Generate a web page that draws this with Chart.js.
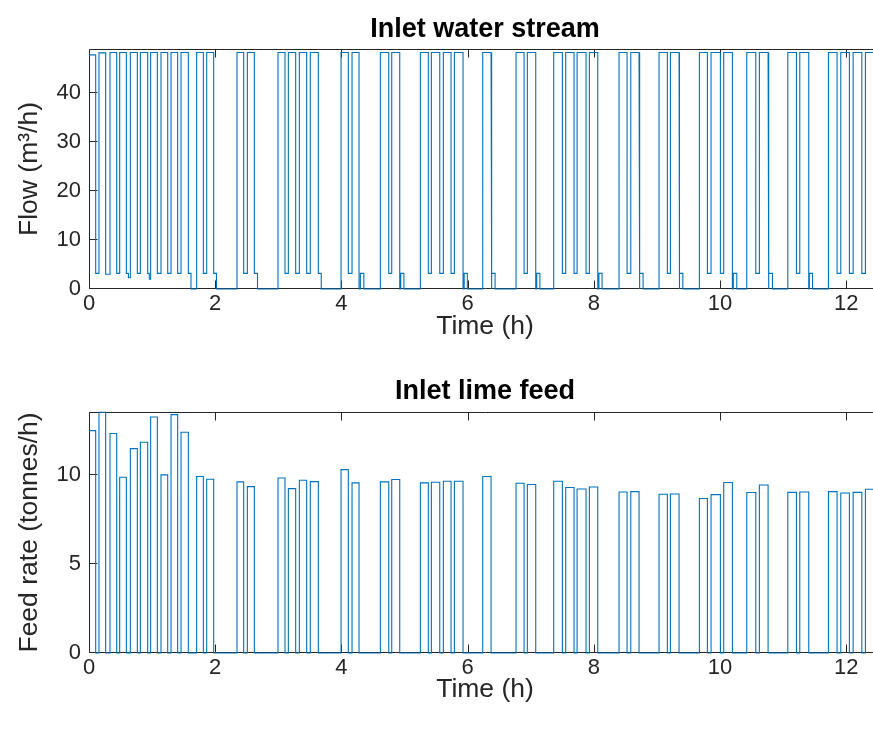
<!DOCTYPE html>
<html><head><meta charset="utf-8">
<script src="https://cdn.jsdelivr.net/npm/chart.js@4"></script>
<style>
html,body{margin:0;padding:0;background:#fff;overflow:hidden;width:873px;height:734px;}
.wrap{position:absolute;left:0;width:873px;height:367px;overflow:hidden;}
</style></head><body>
<div class="wrap" style="top:0"><canvas id="c1" width="881" height="367"></canvas></div>
<div class="wrap" style="top:367px"><canvas id="c2" width="881" height="367"></canvas></div>
<script>
// ---- data (hours, m3/h, tonnes/h) ----
const timeTicks = [0, 2, 4, 6, 8, 10, 12];
const flowTicks = [0, 10, 20, 30, 40];
const feedTicks = [0, 5, 10];

const pulseStart = [0.000,0.158,0.333,0.486,0.655,0.814,0.977,1.141,1.300,1.458,1.706,1.865,
  2.345,2.509,2.995,3.159,3.333,3.507,3.994,4.168,4.617,4.797,5.251,5.425,5.615,5.790,
  6.239,6.767,6.946,7.364,7.554,7.734,7.929,8.399,8.585,9.033,9.213,9.672,9.857,10.058,
  10.423,10.623,11.073,11.263,11.717,11.913,12.108,12.303];
const pulseEnd = [0.106,0.264,0.439,0.592,0.766,0.930,1.083,1.247,1.405,1.574,1.812,1.976,
  2.451,2.620,3.106,3.275,3.449,3.634,4.109,4.279,4.750,4.924,5.377,5.558,5.737,5.927,
  6.371,6.894,7.079,7.501,7.686,7.876,8.062,8.526,8.716,9.165,9.350,9.799,10.005,10.195,
  10.566,10.761,11.210,11.405,11.854,12.049,12.246,12.700];
const limeFeed = [12.51,13.55,12.35,9.89,11.50,11.86,13.28,10.02,13.41,12.42,9.93,9.78,
  9.63,9.36,9.85,9.25,9.72,9.64,10.32,9.57,9.63,9.76,9.57,9.61,9.66,9.66,
  9.93,9.55,9.48,9.66,9.31,9.23,9.34,9.06,9.08,8.93,8.95,8.69,8.91,9.59,
  9.03,9.45,9.04,9.06,9.08,9.00,9.04,9.21];
const waterOn = [47.8,48.2,48.3,48.3,48.3,48.3,48.3,48.3,48.3,48.3,48.3,48.3,
  48.3,48.3,48.3,48.3,48.3,48.3,48.3,48.3,48.3,48.3,48.3,48.3,48.3,48.3,
  48.3,48.3,48.3,48.3,48.3,48.3,48.3,48.3,48.3,48.3,48.3,48.3,48.3,48.3,
  48.3,48.3,48.3,48.3,48.3,48.3,48.3,48.3];
const trickleStart = [0.106,0.264,0.439,0.592,0.625,0.766,0.930,0.955,1.083,1.247,1.405,1.574,
  1.812,1.976,2.451,2.620,3.106,3.275,3.449,3.634,4.109,4.300,4.750,4.940,
  5.377,5.558,5.737,5.945,6.385,6.894,7.095,7.501,7.686,7.876,8.080,8.526,8.730,
  9.165,9.360,9.799,10.005,10.210,10.566,10.775,11.210,11.415,11.854,12.049,12.246];
const trickleEnd = [0.158,0.333,0.486,0.625,0.655,0.814,0.955,0.977,1.141,1.300,1.458,1.616,
  1.865,2.020,2.509,2.670,3.159,3.333,3.507,3.680,4.168,4.355,4.797,4.990,
  5.425,5.615,5.790,5.995,6.435,6.946,7.145,7.554,7.734,7.929,8.130,8.585,8.780,
  9.213,9.410,9.857,10.058,10.265,10.623,10.830,11.263,11.465,11.913,12.108,12.303];
const trickleLevel = [3.2,3.0,3.2,3.2,2.3,3.2,3.2,2.0,3.2,3.2,3.2,3.2,
  3.2,3.2,3.2,3.2,3.2,3.2,3.2,3.2,3.2,3.2,3.2,3.2,
  3.2,3.2,3.2,3.2,3.2,3.2,3.2,3.2,3.2,3.2,3.2,3.2,3.2,
  3.2,3.2,3.2,3.2,3.2,3.2,3.2,3.2,3.2,3.2,3.2,3.2];

// ---- build step series ----
function stepSeries(segs) {
  segs.sort((a, b) => a.s - b.s);
  const pts = [];
  let cur = 0;
  segs.forEach(g => {
    if (g.s > cur + 1e-9) pts.push({x: cur, y: 0}, {x: g.s, y: 0});
    pts.push({x: g.s, y: g.v}, {x: g.e, y: g.v});
    cur = g.e;
  });
  pts.push({x: cur, y: 0});
  return pts;
}
const flowSegs = pulseStart.map((s, i) => ({s, e: pulseEnd[i], v: waterOn[i]}))
  .concat(trickleStart.map((s, i) => ({s, e: trickleEnd[i], v: trickleLevel[i]})));
const feedSegs = pulseStart.map((s, i) => ({s, e: pulseEnd[i], v: limeFeed[i]}));

const FONT = "'Liberation Sans', Arial, Helvetica, sans-serif";
const AX = '#262626';
const LINE = '#0072BD';

const boxPlugin = {
  id: 'matlabBox',
  beforeDatasetsDraw(chart) {
    const {ctx, chartArea: a, scales: {x, y}} = chart;
    ctx.save();
    ctx.strokeStyle = AX; ctx.lineWidth = 1;
    const L = Math.round(a.left) + 0.5, R = Math.round(a.right) + 0.5,
          T = Math.round(a.top) + 0.5, B = Math.round(a.bottom) - 0.5;
    ctx.beginPath();
    ctx.rect(L, T, R - L, B - T);
    const tl = 8;
    x.ticks.forEach(t => {
      const px = Math.round(x.getPixelForValue(t.value)) + 0.5;
      ctx.moveTo(px, B); ctx.lineTo(px, B - tl);
      ctx.moveTo(px, T); ctx.lineTo(px, T + tl);
    });
    y.ticks.forEach(t => {
      const py = Math.round(y.getPixelForValue(t.value)) - 0.5;
      ctx.moveTo(L, py); ctx.lineTo(L + tl, py);
      ctx.moveTo(R, py); ctx.lineTo(R - tl, py);
    });
    ctx.stroke();
    ctx.restore();
  }
};

function makeChart(id, cfg) {
  return new Chart(document.getElementById(id), {
    type: 'line',
    data: {datasets: [{data: cfg.data, borderColor: LINE, borderWidth: 1.1, pointRadius: 0,
      fill: false, tension: 0, clip: 3}]},
    options: {
      responsive: false, animation: false, devicePixelRatio: 1,
      layout: {padding: {left: 0, right: 0, top: 0, bottom: 0}},
      plugins: {
        legend: {display: false}, tooltip: {enabled: false},
        title: {display: true, fullSize: false, text: cfg.title, color: '#000',
          font: {family: FONT, size: 27, weight: 'bold'}, padding: cfg.titlePad}
      },
      scales: {
        x: {type: 'linear', min: 0, max: 12.55,
          afterBuildTicks: s => { s.ticks = timeTicks.map(v => ({value: v})); },
          afterFit: s => { s.height = cfg.xHeight; },
          grid: {display: false, drawTicks: false}, border: {display: false},
          ticks: {color: AX, font: {family: FONT, size: 22}, padding: 2, maxRotation: 0, autoSkip: false},
          title: {display: true, text: 'Time (h)', color: AX, font: {family: FONT, size: 26.5},
            padding: {top: 0, bottom: cfg.xTitlePad}}},
        y: {type: 'linear', min: 0, max: cfg.ymax,
          afterBuildTicks: s => { s.ticks = cfg.yTicks.map(v => ({value: v})); },
          afterFit: s => { s.width = 89; },
          grid: {display: false, drawTicks: false}, border: {display: false},
          ticks: {color: AX, font: {family: FONT, size: 22}, padding: 8},
          title: {display: true, text: cfg.ylabel, color: AX, font: {family: FONT, size: 26.5},
            padding: {top: 14, bottom: 0}}}
      }
    },
    plugins: [boxPlugin]
  });
}

makeChart('c1', {data: stepSeries(flowSegs), title: 'Inlet water stream',
  titlePad: {top: 13.8, bottom: 2.8}, xHeight: 78, xTitlePad: 24.1,
  ymax: 49, yTicks: flowTicks, ylabel: 'Flow (m³/h)'});
makeChart('c2', {data: stepSeries(feedSegs), title: 'Inlet lime feed',
  titlePad: {top: 8.8, bottom: 3.8}, xHeight: 81, xTitlePad: 28.1,
  ymax: 13.56, yTicks: feedTicks, ylabel: 'Feed rate (tonnes/h)'});
</script>
</body></html>
